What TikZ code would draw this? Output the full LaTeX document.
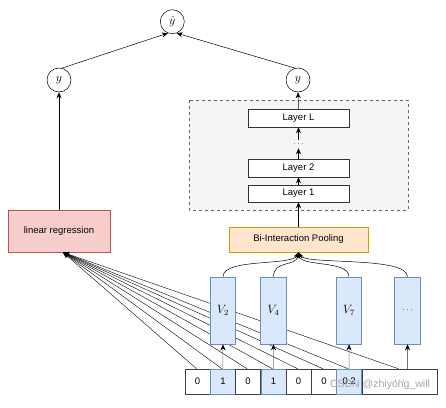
\documentclass[tikz,border=0pt]{standalone}
\usepackage[no-math]{fontspec}
\setmainfont{Liberation Sans}
\usetikzlibrary{arrows.meta,calc}
\definecolor{bluef}{HTML}{DAE8FC}
\definecolor{bluel}{HTML}{6C8EBF}
\definecolor{redf}{HTML}{F8CECC}
\definecolor{redl}{HTML}{B85450}
\definecolor{orf}{HTML}{FFE6CC}
\definecolor{orl}{HTML}{D79B00}
\definecolor{grf}{HTML}{F5F5F5}
\definecolor{grl}{HTML}{666666}
\begin{document}
\begin{tikzpicture}[x=1pt,y=-1pt,
  every node/.style={font=\fontsize{9.5}{11}\selectfont, inner sep=0pt},
  arr/.style={-{Stealth[length=6pt,width=5pt,color=black]}, line width=0.5pt},
  circ/.style={draw, circle, minimum size=24pt, line width=0.5pt},
  layerbox/.style={draw=black!80, fill=white, minimum width=101pt, line width=0.5pt},
  vbox/.style={draw=bluel, fill=bluef, minimum width=25.5pt, minimum height=67pt, line width=0.6pt},
  cellw/.style={draw=black!75, fill=white, minimum width=25.25pt, minimum height=25pt, line width=0.5pt},
  cellb/.style={draw=bluel, fill=bluef, minimum width=25.25pt, minimum height=25pt, line width=0.5pt},
]
\useasboundingbox (0,0) rectangle (446,407);
% dashed container
\draw[dashed, draw=grl, fill=grf, line width=0.5pt] (189,100) rectangle (408,210);
% output nodes
\node[circ] (yhat) at (172.3,21.7) {\large $\hat{y}$};
\node[circ] (yl) at (59,80) {\large $y$};
\node[circ] (yr) at (298,80) {\large $y$};
% layers
\node[layerbox, minimum height=18pt] (LL) at (298.5,118) {Layer L};
\node (ld) at (298.5,144) {$\cdots$};
\node[layerbox, minimum height=18pt] (L2) at (298.5,168) {Layer 2};
\node[layerbox, minimum height=17pt] (L1) at (298.5,193.5) {Layer 1};
% linear regression
\node[draw=redl, fill=redf, minimum width=102pt, minimum height=42pt, line width=0.6pt] (lr) at (59,231) {linear regression};
% bi-interaction
\node[draw=orl, fill=orf, minimum width=139pt, minimum height=25pt, line width=0.6pt] (bip) at (298.5,239.5) {Bi-Interaction Pooling};
% cells
\node[cellw] (c1) at (197.6,381.5) {0};
\node[cellb] (c2) at (222.9,381.5) {1};
\node[cellw] (c3) at (248.1,381.5) {0};
\node[cellb] (c4) at (273.4,381.5) {1};
\node[cellw] (c5) at (298.6,381.5) {0};
\node[cellw] (c6) at (323.9,381.5) {0};
\node[cellb] (c7) at (349.1,381.5) {0.2};
\node[cellw, minimum width=75.3pt] (c8) at (399.4,381.5) {$\cdots$};
% cells to linear regression (behind V boxes)
\coordinate (lrin) at ($(lr.south)+(4,0)$);
\foreach \c in {c1,c2,c3,c4,c5,c6,c7,c8}{
  \draw[arr, line width=0.4pt] ($(\c.north)+(-1,0)$) -- (lrin);
}
% V boxes
\node[vbox] (v2) at (223,310.5) {\large $V_2$};
\node[vbox] (v4) at (273.5,310.5) {\large $V_4$};
\node[vbox] (v7) at (349,310.5) {\large $V_7$};
\node[vbox] (vd) at (407.5,310.5) {$\cdots$};
% watermark
\node[text=black!35, font=\fontsize{10.5}{12}\selectfont] (wm) at (380,385) {CSDN @zhiyong\_will};
% connectors top
\draw[arr] (yl.76) -- (yhat.-111);
\draw[arr] (yr.104) -- (yhat.-69);
\draw[arr] (lr.north) -- (yl.south);
\draw[arr] (LL.north) -- (yr.south);
\draw[arr] ($(ld.north)+(0,-2)$) -- (LL.south);
\draw[arr] (L2.north) -- ($(ld.south)+(0,2)$);
\draw[arr] (L1.north) -- (L2.south);
\draw[arr] (bip.north) -- (L1.south);
% curves to bip
\draw[arr] (v2.north) .. controls (223,258) and (292,266) .. (bip.south);
\draw[arr] (v4.north) .. controls (273.5,260) and (296,267) .. (bip.south);
\draw[arr] (v7.north) .. controls (349,260) and (301,267) .. (bip.south);
\draw[arr] (vd.north) .. controls (407.5,256) and (305,265) .. (bip.south);
% cells to V
\draw[arr, draw=black!55] (c2.north) -- (v2.south);
\draw[arr, draw=black!55] (c4.north) -- (v4.south);
\draw[arr, draw=black!55] (c7.north) -- (v7.south);
\draw[arr, draw=black!55] (vd.south |- c8.north) -- (vd.south);
\end{tikzpicture}
\end{document}
